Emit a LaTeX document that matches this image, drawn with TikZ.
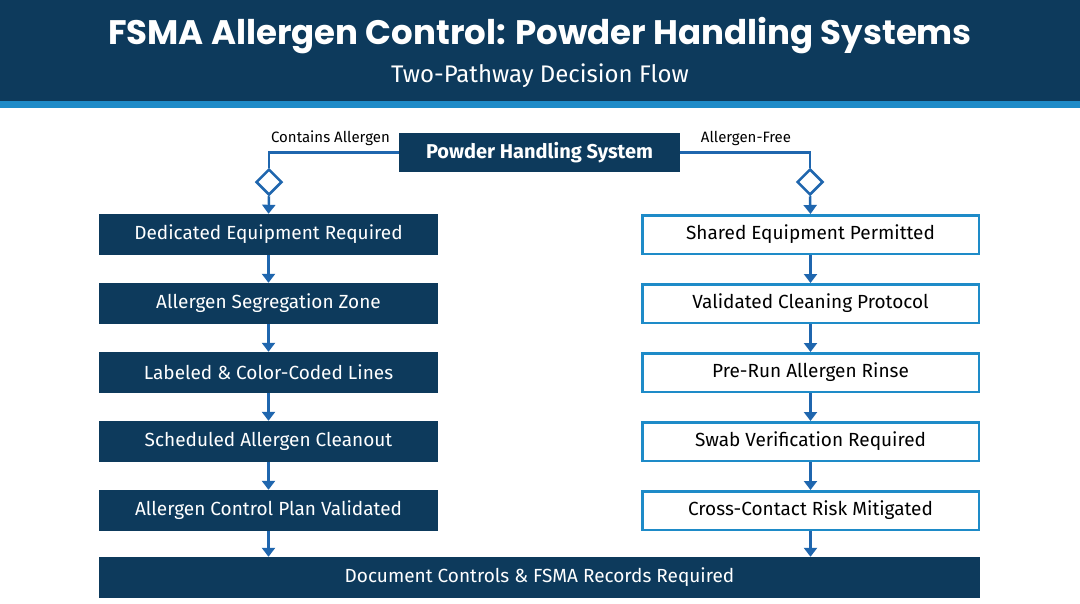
\documentclass[tikz,border=0pt]{standalone}
\usepackage{fontspec}
\setmainfont{Fira Sans}
\newfontfamily\titlefont{Poppins}
\usetikzlibrary{shapes.geometric,arrows.meta}
\definecolor{navy}{HTML}{0D3A5C}
\definecolor{lblue}{HTML}{1E8BC8}
\definecolor{ablue}{HTML}{1F66AE}
\begin{document}
\begin{tikzpicture}[x=1pt,y=-1pt,
  dark/.style={draw=none,fill=navy,minimum width=339pt,minimum height=41pt,text=white,font=\fontsize{19}{22}\selectfont,inner sep=0pt},
  light/.style={draw=lblue,line width=2.5pt,fill=white,minimum width=336.5pt,minimum height=38.5pt,text=black,font=\fontsize{19}{22}\selectfont,inner sep=0pt},
  dia/.style={diamond,draw=ablue,line width=2.5pt,fill=white,minimum width=26pt,minimum height=26pt,inner sep=0pt},
  arr/.style={draw=ablue,line width=2.5pt,-{Triangle[length=9pt,width=13pt]}},
  ln/.style={draw=ablue,line width=2.5pt},
  lab/.style={font=\fontsize{15}{18}\selectfont,text=black,inner sep=0pt}]
\useasboundingbox (0,0) rectangle (1080,603);
\fill[white] (0,0) rectangle (1080,603);
\fill[navy] (0,0) rectangle (1080,101);
\fill[lblue] (0,101) rectangle (1080,108);
\node[text=white,font=\titlefont\bfseries\fontsize{34}{40}\selectfont] (title) at (540,36) {FSMA Allergen Control: Powder Handling Systems};
\node[text=white,font=\fontsize{24}{28}\selectfont] (sub) at (540,76) {Two-Pathway Decision Flow};
\node[fill=navy,minimum width=281pt,minimum height=39pt,inner sep=0pt,text=white,font=\bfseries\fontsize{20}{24}\selectfont] (root) at (539.5,152.5) {Powder Handling System};
\node[lab,anchor=east] (lc) at (390,138) {Contains Allergen};
\node[lab] (lf) at (746,138) {Allergen-Free};
\node[dia] (dl) at (269,182) {};
\node[dia] (dr) at (810,182) {};
\node[dark] (l1) at (268.5,234.5) {Dedicated Equipment Required};
\node[dark] (l2) at (268.5,303.5) {Allergen Segregation Zone};
\node[dark] (l3) at (268.5,372.5) {Labeled \& Color-Coded Lines};
\node[dark] (l4) at (268.5,441.5) {Scheduled Allergen Cleanout};
\node[dark] (l5) at (268.5,510.5) {Allergen Control Plan Validated};
\node[light] (r1) at (810.5,234.5) {Shared Equipment Permitted};
\node[light] (r2) at (810.5,303.5) {Validated Cleaning Protocol};
\node[light] (r3) at (810.5,372.5) {Pre-Run Allergen Rinse};
\node[light] (r4) at (810.5,441.5) {Swab Verification Required};
\node[light] (r5) at (810.5,510.5) {Cross-Contact Risk Mitigated};
\node[dark,minimum width=881pt] (bot) at (539.5,577.5) {Document Controls \& FSMA Records Required};
\draw[ln] (root.west) -| (dl.north);
\draw[ln] (root.east) -| (dr.north);
\draw[arr] (dl.south) -- (l1.north);
\draw[arr] (dr.south) -- (r1.north);
\foreach \a/\b in {l1/l2,l2/l3,l3/l4,l4/l5,r1/r2,r2/r3,r3/r4,r4/r5}{\draw[arr] (\a.south) -- (\b.north);}
\draw[arr] (l5.south) -- (l5.south |- bot.north);
\draw[arr] (r5.south) -- (r5.south |- bot.north);
\end{tikzpicture}
\end{document}
